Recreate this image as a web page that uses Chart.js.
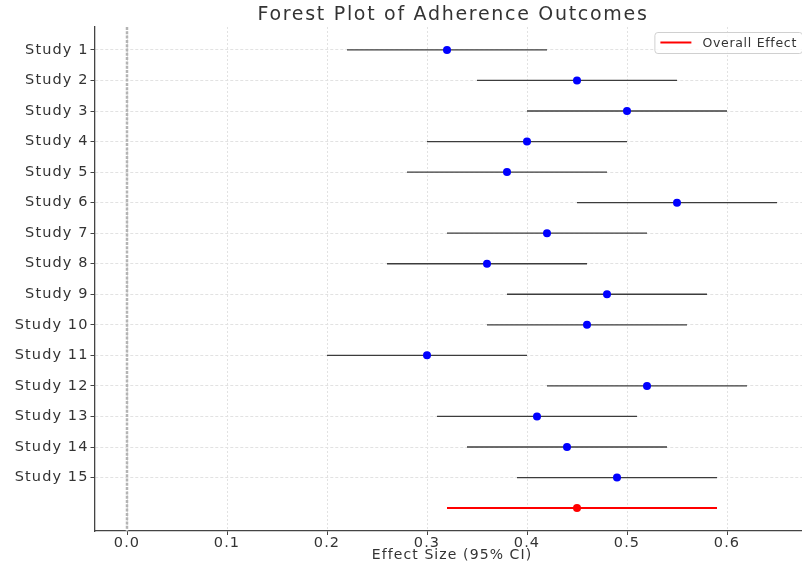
<!DOCTYPE html>
<html>
<head>
<meta charset="utf-8">
<script src="https://cdn.jsdelivr.net/npm/chart.js@4.4.1/dist/chart.umd.min.js"></script>
<style>
  html, body { margin: 0; padding: 0; background: #fff; overflow: hidden; }
  #wrap { width: 820px; height: 564px; }
</style>
</head>
<body>
<div id="wrap"><canvas id="forest" width="820" height="564"></canvas></div>
<script>
  "use strict";

  const studies = ["Study 1", "Study 2", "Study 3", "Study 4", "Study 5",
    "Study 6", "Study 7", "Study 8", "Study 9", "Study 10",
    "Study 11", "Study 12", "Study 13", "Study 14", "Study 15"];
  const effects = [0.32, 0.45, 0.50, 0.40, 0.38, 0.55, 0.42, 0.36, 0.48, 0.46, 0.30, 0.52, 0.41, 0.44, 0.49];
  const ciLower = [0.22, 0.35, 0.40, 0.30, 0.28, 0.45, 0.32, 0.26, 0.38, 0.36, 0.20, 0.42, 0.31, 0.34, 0.39];
  const ciUpper = [0.42, 0.55, 0.60, 0.50, 0.48, 0.65, 0.52, 0.46, 0.58, 0.56, 0.40, 0.62, 0.51, 0.54, 0.59];
  const overallEffect = 0.45;
  const overallCI = [0.32, 0.59];
  const xTicks = [0.0, 0.1, 0.2, 0.3, 0.4, 0.5, 0.6];

  const X_MIN = -0.0325;
  const X_MAX = 0.6825;
  const Y_MIN = -0.75;
  const Y_MAX = studies.length + 0.75;
  const overallRow = studies.length;

  const FONT = "'DejaVu Sans', sans-serif";

  const datasets = [];

  // reference line at zero
  datasets.push({
    type: "line",
    data: [{ x: 0, y: Y_MIN }, { x: 0, y: Y_MAX }],
    borderColor: "#b4b4b4",
    borderWidth: 2.5,
    borderDash: [3, 1.3],
    pointRadius: 0,
    order: 3
  });

  // confidence intervals
  studies.forEach(function (name, i) {
    datasets.push({
      type: "line",
      data: [{ x: ciLower[i], y: i }, { x: ciUpper[i], y: i }],
      borderColor: "#3c3c3c",
      borderWidth: 1.3,
      pointRadius: 0,
      order: 2
    });
  });

  datasets.push({
    type: "line",
    label: "Overall Effect",
    data: [{ x: overallCI[0], y: overallRow }, { x: overallCI[1], y: overallRow }],
    borderColor: "#ff0000",
    borderWidth: 2,
    pointRadius: 0,
    order: 2
  });

  datasets.push({
    type: "scatter",
    data: effects.map(function (v, i) { return { x: v, y: i }; }),
    backgroundColor: "#0000ff",
    borderWidth: 0,
    pointRadius: 4,
    order: 1
  });

  datasets.push({
    type: "scatter",
    data: [{ x: overallEffect, y: overallRow }],
    backgroundColor: "#ff0000",
    borderWidth: 0,
    pointRadius: 4,
    order: 1
  });

  // the reference text is drawn wide, so space the letters out a little
  const wideText = {
    id: "wideText",
    beforeDraw: function (chart) {
      chart.ctx.save();
      chart.ctx.letterSpacing = "1.1px";
    },
    afterDraw: function (chart) {
      chart.ctx.restore();
    }
  };

  const titleAndLegend = {
    id: "titleAndLegend",
    afterDraw: function (chart) {
      const ctx = chart.ctx;
      const area = chart.chartArea;
      ctx.save();
      ctx.fillStyle = "#333";
      ctx.font = "19px " + FONT;
      ctx.letterSpacing = "1.7px";
      ctx.textAlign = "center";
      ctx.textBaseline = "middle";
      ctx.fillText("Forest Plot of Adherence Outcomes", (area.left + area.right) / 2 + 1, 15);

      ctx.font = "12.5px " + FONT;
      ctx.letterSpacing = "0.7px";
      const text = "Overall Effect";
      const tw = ctx.measureText(text).width;
      const w = 6 + 31 + 11 + tw + 5;
      const h = 21;
      const right = 802;
      const left = right - w;
      const top = area.top + 5;
      ctx.fillStyle = "rgba(255,255,255,0.8)";
      ctx.strokeStyle = "#d0d0d0";
      ctx.lineWidth = 1;
      ctx.beginPath();
      ctx.roundRect(left + 0.5, top + 0.5, w, h, 3);
      ctx.fill();
      ctx.stroke();
      ctx.strokeStyle = "#ff0000";
      ctx.lineWidth = 2;
      ctx.beginPath();
      ctx.moveTo(left + 6, top + h / 2);
      ctx.lineTo(left + 37, top + h / 2);
      ctx.stroke();
      ctx.fillStyle = "#333";
      ctx.textAlign = "left";
      ctx.fillText(text, left + 48, top + h / 2 + 1);
      ctx.restore();
    }
  };

  new Chart(document.getElementById("forest"), {
    data: { datasets: datasets },
    plugins: [wideText, titleAndLegend],
    options: {
      responsive: false,
      animation: false,
      layout: { padding: { top: 27, right: 10.5, left: 0, bottom: 0 } },
      plugins: {
        legend: { display: false },
        title: { display: false },
        tooltip: { enabled: false }
      },
      scales: {
        x: {
          type: "linear",
          min: X_MIN,
          max: X_MAX,
          afterBuildTicks: function (scale) {
            scale.ticks = xTicks.map(function (v) { return { value: v }; });
          },
          afterFit: function (scale) { scale.height = 33; },
          ticks: {
            color: "#333",
            font: { family: FONT, size: 14.5 },
            padding: 0,
            maxRotation: 0,
            callback: function (v) { return Number(v).toFixed(1); }
          },
          grid: {
            color: "#e2e2e2",
            lineWidth: 1,
            tickLength: 4,
            tickColor: "#444",
            tickBorderDash: []
          },
          border: { display: true, color: "#444", width: 1.3, dash: [2, 2] },
          title: {
            display: true,
            text: "Effect Size (95% CI)",
            color: "#333",
            font: { family: FONT, size: 14 },
            padding: { top: 2, bottom: 0 }
          }
        },
        y: {
          type: "linear",
          min: Y_MIN,
          max: Y_MAX,
          reverse: true,
          afterBuildTicks: function (scale) {
            scale.ticks = studies.map(function (_, i) { return { value: i }; });
          },
          afterFit: function (scale) { scale.width = 94.5; },
          ticks: {
            color: "#333",
            font: { family: FONT, size: 14.5 },
            padding: 2,
            callback: function (v) { return studies[v]; }
          },
          grid: {
            color: "#e2e2e2",
            lineWidth: 1,
            tickLength: 4,
            tickColor: "#444",
            tickBorderDash: []
          },
          border: { display: true, color: "#444", width: 1.3, dash: [3, 2] }
        }
      }
    }
  });
</script>
</body>
</html>
